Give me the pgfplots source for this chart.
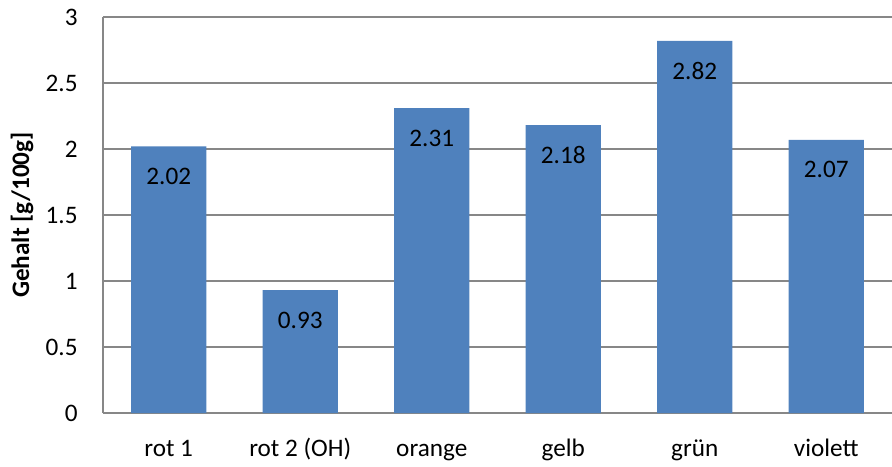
\documentclass[border=0pt]{standalone}
\usepackage{fontspec}
\setmainfont{Carlito}
\usepackage{pgfplots}
\pgfplotsset{compat=1.18}
\definecolor{barblue}{HTML}{4F81BD}
\definecolor{gridgray}{HTML}{878787}
\begin{document}
\begin{tikzpicture}[font=\fontsize{12.6}{15}\selectfont]
\begin{axis}[
  at={(0,0)}, anchor=south west,
  scale only axis,
  width=394.5pt, height=198pt,
  ybar, bar width=37.5pt,
  xmin=-0.5, xmax=5.5,
  ymin=0, ymax=3,
  ytick={0,0.5,1,1.5,2,2.5,3},
  xtick=data,
  xticklabels={rot 1, rot 2 (OH), orange, gelb, grün, violett},
  axis x line*=bottom, axis y line*=left,
  axis line style={gridgray, line width=0.6pt},
  ymajorgrids, grid style={gridgray, line width=0.6pt},
  major tick length=0pt,
  tick style={draw=none},
  /pgf/number format/assume math mode=true,
  tick label style={font=\fontsize{12.6}{15}\selectfont},
  yticklabel style={anchor=east, inner sep=0pt, xshift=-12.5pt},
  xticklabel style={anchor=base, inner sep=0pt, yshift=-21.5pt},
  ylabel={Gehalt [g/100g]},
  every axis y label/.style={at={(axis description cs:0,0.5)}, xshift=-40.5pt, anchor=center, rotate=90, font=\bfseries\fontsize{12.6}{15}\selectfont},
  nodes near coords={\pgfmathprintnumber[fixed,precision=2,zerofill]{\pgfplotspointmeta}},
  every node near coord/.style={anchor=center, yshift=-15pt, text=black, font=\fontsize{12.6}{15}\selectfont},
  clip=false,
]
\addplot[fill=barblue, draw=none] coordinates {(0,2.02) (1,0.93) (2,2.31) (3,2.18) (4,2.82) (5,2.07)};
\end{axis}
\pgfresetboundingbox
\useasboundingbox (-51.5pt,-26.5pt) rectangle (394.5pt,206.5pt);
\end{tikzpicture}
\end{document}
